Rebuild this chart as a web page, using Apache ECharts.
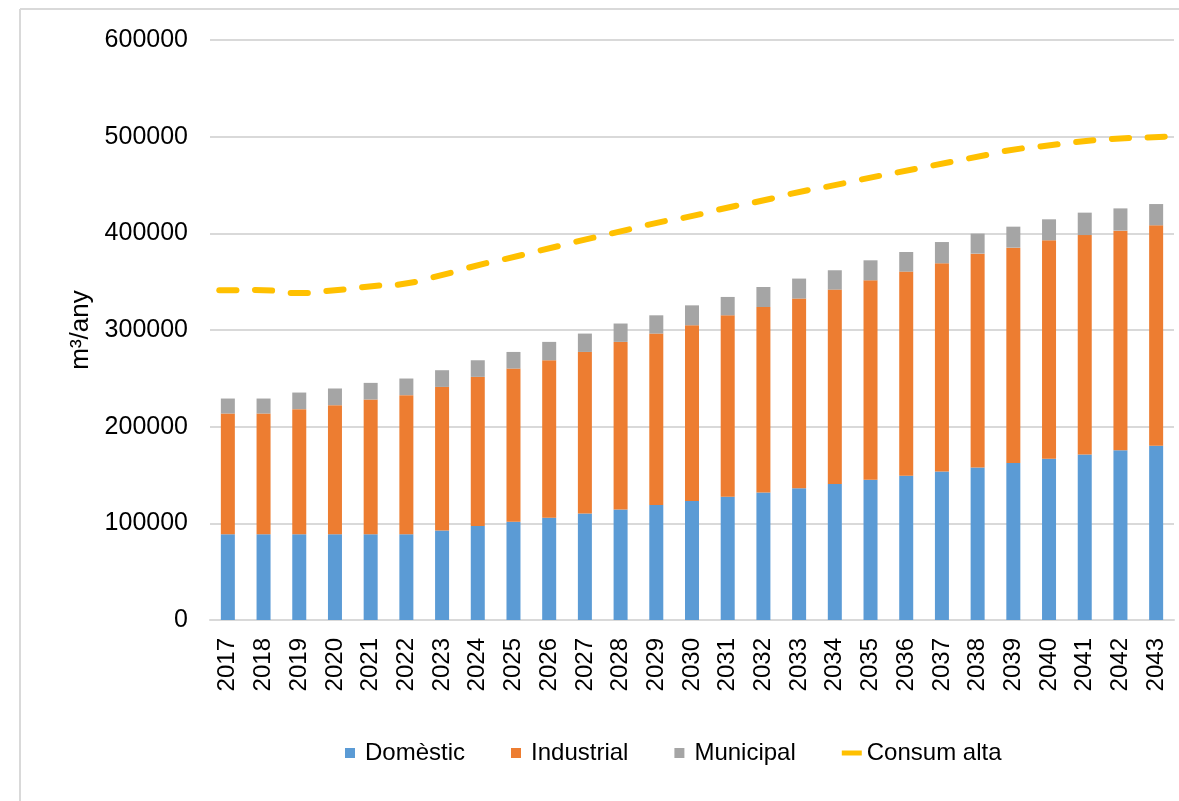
<!DOCTYPE html>
<html>
<head>
<meta charset="utf-8">
<script src="https://cdn.jsdelivr.net/npm/echarts@6/dist/echarts.min.js"></script>
<style>
  html, body { margin: 0; padding: 0; background: #fff; }
  #main { width: 1179px; height: 801px; }
</style>
</head>
<body>
<div id="main"></div>
<script>
var years = ['2017','2018','2019','2020','2021','2022','2023','2024','2025','2026','2027','2028','2029','2030',
             '2031','2032','2033','2034','2035','2036','2037','2038','2039','2040','2041','2042','2043'];

// m3/any, llegit del grafic
var domestic = [88600, 88600, 88600, 88600, 88600, 88600, 92700, 97200, 101600, 105700, 110300, 114400, 118900, 123000,
                127400, 132000, 136400, 140600, 145000, 149200, 153700, 157800, 162300, 166700, 171300, 175700, 180200];
var industrial = [125000, 125000, 129500, 133600, 139500, 144000, 148400, 154300, 158500, 163000, 167000, 173300, 177400, 181900,
                  187800, 191800, 196100, 201200, 206400, 211200, 215300, 221200, 222900, 226100, 226900, 227100, 228100];
var municipal = [15500, 15500, 17200, 17300, 17200, 17200, 17300, 17200, 17200, 19000, 19000, 19000, 18900, 20600,
                 19000, 20700, 20700, 20000, 20700, 20300, 22000, 20700, 21700, 21700, 23200, 23000, 22000];
var consum = [341100, 341100, 338300, 341100, 345200, 348300, 356900, 366900, 375500, 384500, 393500, 402100, 410700, 417900,
              426600, 434100, 442700, 449900, 457600, 464800, 472000, 479300, 486500, 491000, 495400, 498200, 499600];

var yTicks = { min: 0, max: 600000, interval: 100000 };

var font = 'Liberation Sans, Arial, sans-serif';
var myChart = echarts.init(document.getElementById('main'));

// un guio per cada any, centrat al punt (com el traçat discontinu d'Excel)
function dashItem(params, api) {
    var i = params.dataIndex;
    var n = consum.length;
    var w = api.size([1, 0])[0];
    var p = api.coord([i, consum[i]]);
    var a = api.coord([Math.max(i - 1, 0), consum[Math.max(i - 1, 0)]]);
    var b = api.coord([Math.min(i + 1, n - 1), consum[Math.min(i + 1, n - 1)]]);
    var slope = (b[0] - a[0]) ? (b[1] - a[1]) / (b[0] - a[0]) : 0;
    var h = 0.24 * w;
    return {
        type: 'line',
        shape: { x1: p[0] - h, y1: p[1] - slope * h, x2: p[0] + h, y2: p[1] + slope * h },
        style: { stroke: '#ffc000', lineWidth: 6, lineCap: 'round' }
    };
}

var option = {
    animation: false,
    textStyle: { fontFamily: font },
    // marc gris del grafic (nomes es veuen el costat esquerre i el de dalt)
    graphic: [
        { type: 'line', shape: { x1: 20, y1: 9, x2: 1179, y2: 9 }, style: { stroke: '#d9d9d9', lineWidth: 2 }, silent: true },
        { type: 'line', shape: { x1: 20, y1: 9, x2: 20, y2: 801 }, style: { stroke: '#d9d9d9', lineWidth: 2 }, silent: true }
    ],
    grid: { left: 210, right: 5, top: 40, bottom: 181 },
    legend: {
        left: 340,
        top: 736,
        itemWidth: 20,
        itemHeight: 10,
        itemGap: 46,
        symbolKeepAspect: true,
        textStyle: { fontSize: 24, color: '#000', fontFamily: font },
        data: [
            { name: 'Domèstic', icon: 'path://M0,0h10v10h-10z' },
            { name: 'Industrial', icon: 'path://M0,0h10v10h-10z' },
            { name: 'Municipal', icon: 'path://M0,0h10v10h-10z' },
            { name: 'Consum alta', icon: 'path://M0,0h20v5h-20z' }
        ]
    },
    xAxis: {
        type: 'category',
        data: years,
        axisLine: { lineStyle: { color: '#d9d9d9', width: 2 } },
        axisTick: { show: false },
        axisLabel: { rotate: 90, margin: 18, fontSize: 24, color: '#000', fontFamily: font }
    },
    yAxis: {
        type: 'value',
        min: yTicks.min,
        max: yTicks.max,
        interval: yTicks.interval,
        name: 'm³/any',
        nameLocation: 'middle',
        nameGap: 106,
        nameTextStyle: { fontSize: 26, color: '#000', fontFamily: font },
        axisLine: { show: false },
        axisTick: { show: false },
        axisLabel: {
            margin: 22, fontSize: 25, color: '#000', fontFamily: font,
            formatter: function (v) { return String(v); }
        },
        splitLine: { lineStyle: { color: '#d9d9d9', width: 2 } }
    },
    series: [
        { name: 'Domèstic', type: 'bar', stack: 'total', barWidth: 14, data: domestic, itemStyle: { color: '#5b9bd5' } },
        { name: 'Industrial', type: 'bar', stack: 'total', barWidth: 14, data: industrial, itemStyle: { color: '#ed7d31' } },
        { name: 'Municipal', type: 'bar', stack: 'total', barWidth: 14, data: municipal, itemStyle: { color: '#a5a5a5' } },
        {
            name: 'Consum alta',
            type: 'custom',
            renderItem: dashItem,
            data: years.map(function (y, i) { return [i, consum[i]]; }),
            itemStyle: { color: '#ffc000' },
            z: 5
        }
    ]
};

myChart.setOption(option);
</script>
</body>
</html>
